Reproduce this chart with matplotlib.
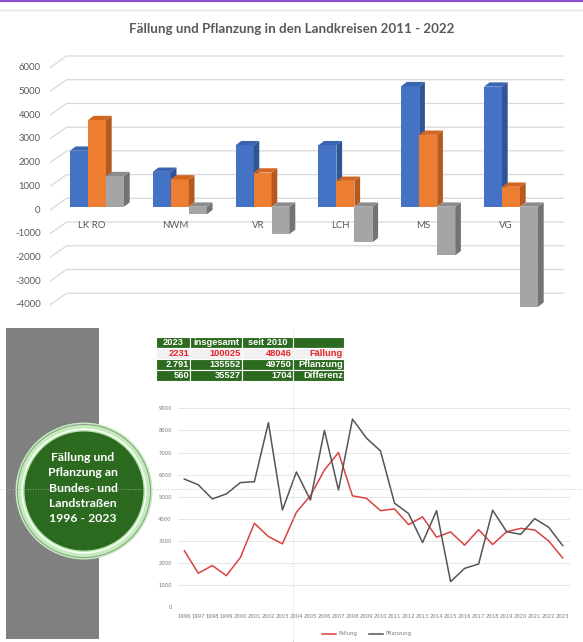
import matplotlib
matplotlib.use("Agg")
import matplotlib.pyplot as plt
from matplotlib.patches import Rectangle, Polygon, Circle
from matplotlib.lines import Line2D

# ---------------- data ----------------
districts = ["LK RO", "NWM", "VR", "LCH", "MS", "VG"]
faellung_kreis = [2360, 1470, 2590, 2590, 5080, 5060]
pflanzung_kreis = [3650, 1150, 1440, 1090, 3030, 840]
differenz_kreis = [1290, -320, -1150, -1500, -2050, -4220]
bar_ticks = [-4000, -3000, -2000, -1000, 0, 1000, 2000, 3000, 4000, 5000, 6000]

years = list(range(1996, 2024))
faellung = [2560, 1540, 1890, 1430, 2250, 3800, 3200, 2870, 4300, 5050,
            6210, 7000, 5040, 4930, 4370, 4450, 3740, 4090, 3170, 3410,
            2810, 3510, 2840, 3420, 3570, 3500, 3000, 2231]
pflanzung = [5800, 5540, 4900, 5130, 5640, 5680, 8350, 4400, 6120, 4850,
             8000, 5300, 8510, 7650, 7070, 4710, 4240, 2930, 4370, 1160,
             1760, 1960, 4390, 3420, 3300, 4010, 3620, 2791]
line_ticks = [0, 1000, 2000, 3000, 4000, 5000, 6000, 7000, 8000, 9000]

table_header = ["2023", "insgesamt", "seit 2010", ""]
table_faellung = ["2231", "100025", "48046", "Fällung"]
table_pflanzung = ["2.791", "135552", "49750", "Pflanzung"]
table_differenz = ["560", "35527", "1704", "Differenz"]

circle_lines = ["Fällung und", "Pflanzung an", "Bundes- und", "Landstraßen", "1996 - 2023"]

# ---------------- figure ----------------
W, H = 583, 642
fig = plt.figure(figsize=(W / 100, H / 100), dpi=100)
fig.patch.set_facecolor("white")


def px_axes(x0, y0, x1, y1, **kw):
    return fig.add_axes([x0 / W, 1 - y1 / H, (x1 - x0) / W, (y1 - y0) / H], **kw)


FONT = ["Lato", "DejaVu Sans"]
TFONT = ["Liberation Sans", "DejaVu Sans"]
TXT = "#595959"

# full-figure overlay axes in pixel coords for decorations
deco = px_axes(0, 0, W, H)
deco.set_xlim(0, W)
deco.set_ylim(H, 0)
deco.axis("off")
deco.set_zorder(0)
deco.add_line(Line2D([0, W], [0.6, 0.6], color="#8a4fc8", lw=1.6))
deco.add_line(Line2D([0, W], [9.8, 9.8], color="#e3e3e3", lw=1.0))
deco.add_patch(Rectangle((6, 328), 93, 311, color="#808080", lw=0))

# ---------------- top: pseudo-3D bar chart ----------------
ax = px_axes(0, 0, W, 320)
ax.axis("off")
cat_px, x0_px = 82.8, 97.0
ppu = 0.02372  # px per value unit
zero_py = 206.7
ax.set_xlim(-x0_px / cat_px, (W - x0_px) / cat_px)
ax.set_ylim((zero_py - 320) / ppu, zero_py / ppu)

wall_front_x = (50 - x0_px) / cat_px
wall_back_x = (66.7 - x0_px) / cat_px
wall_right_x = (564.3 - x0_px) / cat_px
front_off = -3.3 / ppu
back_off = 8.4 / ppu
for g in bar_ticks:
    ax.plot([wall_front_x, wall_back_x, wall_right_x],
            [g + front_off, g + back_off, g + back_off],
            color="#d9d9d9", lw=0.9, zorder=1, solid_capstyle="butt")
    ax.text((40.7 - x0_px) / cat_px, g + front_off, str(g), ha="right", va="center",
            fontsize=6.9, color=TXT, family=FONT)

bw = 18.0 / cat_px
ddx = 5.7 / cat_px
ddy = 4.3 / ppu
series = [
    (faellung_kreis, -bw, "#4472C4", "#2F5597", "#3A63B0"),
    (pflanzung_kreis, 0.0, "#ED7D31", "#B45A1E", "#D2651F"),
    (differenz_kreis, bw, "#A5A5A5", "#737373", "#8C8C8C"),
]
for i, name in enumerate(districts):
    ax.text(i - 0.058, (zero_py - 225) / ppu, name, ha="center", va="center",
            fontsize=6.9, color=TXT, family=FONT, zorder=2)
z = 3
for i in range(len(districts)):
    for vals, off, cf, cs, ct in series:
        v = vals[i]
        xc = i + off
        xl, xr = xc - bw / 2, xc + bw / 2
        top = max(v, 0)
        ax.bar(xc, v, width=bw, color=cf, lw=0, zorder=z)
        ax.add_patch(Polygon([(xr, min(v, 0)), (xr + ddx, min(v, 0) + ddy),
                              (xr + ddx, top + ddy), (xr, top)],
                             closed=True, color=cs, lw=0, zorder=z))
        ax.add_patch(Polygon([(xl, top), (xl + ddx, top + ddy),
                              (xr + ddx, top + ddy), (xr, top)],
                             closed=True, color=ct, lw=0, zorder=z))
        z += 1

fig.text(292 / W, 1 - 29 / H, "Fällung und Pflanzung in den Landkreisen 2011 - 2022",
         ha="center", va="center", fontsize=9.6, fontweight="bold", color=TXT, family=FONT)

# ---------------- table ----------------
GREEN = "#2C6A1F"
tax = px_axes(156, 337, 344, 381)
tax.set_xlim(156, 344)
tax.set_ylim(381, 337)
tax.axis("off")
col_edges = [156, 190, 242, 293, 344]
row_edges = [337, 348, 359, 370, 381]
rows = [table_header, table_faellung, table_pflanzung, table_differenz]
row_bg = [GREEN, "#f1f1f1", GREEN, GREEN]
row_fg = ["white", "#e8242a", "white", "white"]
for r, cells in enumerate(rows):
    for c, txt in enumerate(cells):
        x0c, x1c = col_edges[c], col_edges[c + 1]
        y0c, y1c = row_edges[r], row_edges[r + 1]
        tax.add_patch(Rectangle((x0c, y0c), x1c - x0c, y1c - y0c, facecolor=row_bg[r],
                                edgecolor="white", lw=0.8))
        if r == 0:
            tax.text((x0c + x1c) / 2, (y0c + y1c) / 2 + 0.3, txt, ha="center", va="center",
                     fontsize=6.7, fontweight="bold", color=row_fg[r], family=TFONT)
        else:
            tax.text(x1c - 1.0, (y0c + y1c) / 2 + 0.3, txt, ha="right", va="center",
                     fontsize=6.7, fontweight="bold", color=row_fg[r], family=TFONT)

# ---------------- line chart ----------------
lax = px_axes(178, 408.3, 570, 607.3)
lax.set_xlim(1995.55, 2023.52)
lax.set_ylim(0, 9000)
lax.plot(years, faellung, color="#d9423f", lw=1.1, label="Fällung", zorder=3)
lax.plot(years, pflanzung, color="#555555", lw=1.1, label="Pflanzung", zorder=3)
lax.set_yticks(line_ticks)
lax.set_yticklabels([str(t) for t in line_ticks])
lax.set_xticks(years)
lax.set_xticklabels([str(y) for y in years])
lax.tick_params(axis="both", length=0, labelsize=3.8, colors="#7a7a7a")
lax.tick_params(axis="y", pad=4.5)
lax.tick_params(axis="x", pad=4.5)
lax.grid(axis="y", color="#e6e6e6", lw=0.7)
lax.set_axisbelow(True)
for s in lax.spines.values():
    s.set_visible(False)
lax.patch.set_alpha(0)
leg = fig.legend(loc="center", bbox_to_anchor=(367 / W, 1 - 634 / H), ncol=2, frameon=False,
                 fontsize=3.8, handlelength=2.6, columnspacing=2.2, handletextpad=0.5,
                 labelcolor="#7a7a7a")

# ---------------- circle ----------------
cax = px_axes(84 - 70, 491 - 70, 84 + 70, 491 + 70)
cax.set_xlim(-70, 70)
cax.set_ylim(70, -70)
cax.axis("off")
cax.add_patch(Circle((0, 0), 68.5, facecolor="#c3ecbb", edgecolor="none"))
cax.add_patch(Circle((0, 0), 66.5, facecolor="none", edgecolor="#8c9a8a", lw=0.7))
cax.add_patch(Circle((0, 0), 62.5, facecolor="white", edgecolor="none"))
cax.add_patch(Circle((0, 0), 61.0, facecolor="#b6e4ad", edgecolor="none"))
cax.add_patch(Circle((0, 0), 59.5, facecolor=GREEN, edgecolor="none"))
for k, line in enumerate(circle_lines):
    cax.text(-1, -33.5 + k * 15.3, line, ha="center", va="center", color="white",
             fontsize=8.8, fontweight="bold", family=FONT)

# ---------------- crosshair (dotted) ----------------
top = px_axes(0, 0, W, H)
top.set_xlim(0, W)
top.set_ylim(H, 0)
top.axis("off")
top.add_line(Line2D([0, W], [489, 489], color="#b8b8b8", lw=0.6, ls=(0, (1, 2))))
top.add_line(Line2D([292.7, 292.7], [328, H], color="#c8c8c8", lw=0.6, ls=(0, (1, 2))))

fig.savefig("out.png", dpi=100)
